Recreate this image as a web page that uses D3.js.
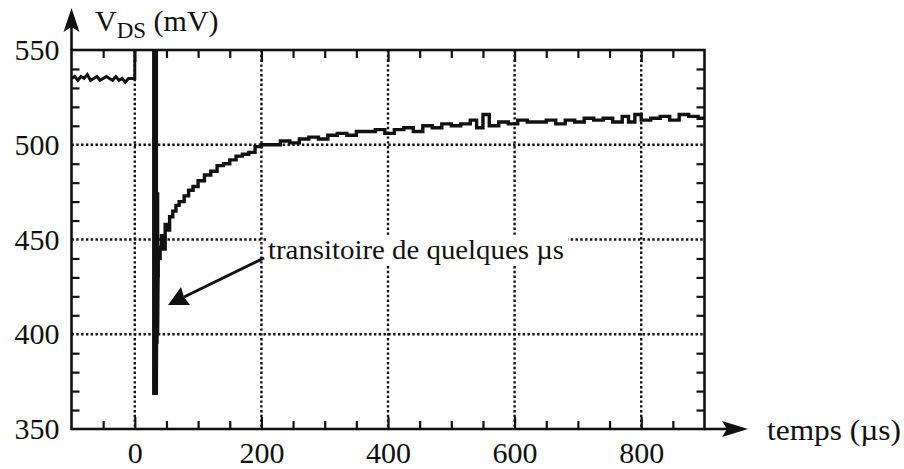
<!DOCTYPE html>
<html>
<head>
<meta charset="utf-8">
<script src="https://cdn.jsdelivr.net/npm/d3@7"></script>
<style>
  body { margin: 0; background: #fff; }
  svg text { font-family: "Liberation Serif", Tinos, "Times New Roman", "DejaVu Serif", serif; fill: #111; }
</style>
</head>
<body>
<script>
// trace before the pulse (µs, mV)
const preT = [-100, -95, -90, -85, -80, -75, -70, -65, -60, -55, -50, -45, -40, -35, -30, -25, -20, -15, -10, -5, 0, 0];
const preV = [535, 536, 534, 536, 535, 537, 534, 535, 536, 534, 535, 536, 535, 534, 536, 534, 535, 533, 535, 535, 535, 600];

// fast transient (off-scale then ringing down)
const transT = [32, 32, 32, 32, 33, 33, 34, 34, 35, 35];
const transV = [600, 368, 560, 372, 470, 395, 475, 400, 445, 430];

// slow recovery
const recT = [36, 40, 42, 45, 48, 52, 55, 60, 65, 70, 78, 85, 92, 100, 110, 120, 130, 140, 150, 160, 170, 180, 190, 200,
  215, 230, 245, 260, 275, 290, 305, 320, 335, 350, 365, 380, 395, 410, 425, 440, 455, 470, 485, 500, 515, 530, 540, 550,
  560, 575, 590, 605, 620, 635, 650, 665, 680, 695, 710, 725, 740, 755, 770, 780, 790, 800, 815, 830, 845, 860, 875, 890, 900];
const recV = [440, 446, 452, 445, 458, 455, 462, 465, 468, 470, 473, 476, 478, 481, 484, 486, 489, 490, 492, 494, 495, 496, 499, 500,
  500, 502, 501, 503, 504, 503, 505, 506, 505, 507, 507, 508, 506, 508, 509, 507, 510, 509, 511, 510, 511, 513, 509, 516,
  510, 512, 511, 513, 512, 512, 513, 511, 513, 512, 514, 513, 514, 512, 515, 512, 516, 513, 514, 515, 513, 516, 515, 514, 515];

const xMajor = [0, 200, 400, 600, 800];
const xMinor = [-50, 50, 100, 150, 250, 300, 350, 450, 500, 550, 650, 700, 750, 850];
const yLabels = [550, 500, 450, 400, 350];
const yGrid = [500, 450, 400];
const yMinor = d3.range(360, 550, 10).filter(v => v % 50 !== 0);

const width = 904, height = 469;
const x = d3.scaleLinear().domain([-100, 900]).range([71.5, 704.5]);
const y = d3.scaleLinear().domain([350, 550]).range([429, 50]);

const svg = d3.select("body").append("svg")
    .attr("width", width)
    .attr("height", height);

svg.append("defs").append("clipPath").attr("id", "plot")
  .append("rect")
    .attr("x", x(-100)).attr("y", y(550))
    .attr("width", x(900) - x(-100)).attr("height", y(350) - y(550));

// dotted grid
svg.append("g").selectAll("line")
  .data(xMajor)
  .enter().append("line")
    .attr("x1", d => x(d)).attr("x2", d => x(d))
    .attr("y1", y(550)).attr("y2", y(350))
    .attr("stroke", "#111").attr("stroke-width", 2.4)
    .attr("stroke-dasharray", "2.4,2.4");

svg.append("g").selectAll("line")
  .data(yGrid)
  .enter().append("line")
    .attr("x1", x(-100)).attr("x2", x(900))
    .attr("y1", d => y(d)).attr("y2", d => y(d))
    .attr("stroke", "#111").attr("stroke-width", 2.4)
    .attr("stroke-dasharray", "2.4,2.4");

// ticks on all four sides, pointing inward
function ticks(axis) {
  return g => { g.call(axis); g.select(".domain").remove();
    g.attr("font-family", null).attr("font-size", null);
    g.selectAll(".tick line").attr("stroke", "#111").attr("stroke-width", 2.2); };
}
svg.append("g").attr("transform", `translate(0,${y(350)})`)
  .call(ticks(d3.axisBottom(x).tickValues(xMinor).tickSize(-8).tickFormat("")));
svg.append("g").attr("transform", `translate(0,${y(350)})`)
  .call(ticks(d3.axisBottom(x).tickValues(xMajor).tickSize(-12).tickPadding(13)))
  .selectAll("text").attr("font-size", 30);
svg.append("g").attr("transform", `translate(0,${y(550)})`)
  .call(ticks(d3.axisTop(x).tickValues(xMinor).tickSize(-8).tickFormat("")));
svg.append("g").attr("transform", `translate(0,${y(550)})`)
  .call(ticks(d3.axisTop(x).tickValues(xMajor).tickSize(-12).tickFormat("")));
svg.append("g").attr("transform", `translate(${x(-100)},0)`)
  .call(ticks(d3.axisLeft(y).tickValues(yMinor).tickSize(-8).tickFormat("")));
svg.append("g").attr("transform", `translate(${x(-100)},0)`)
  .call(ticks(d3.axisLeft(y).tickValues(yLabels).tickSize(0).tickPadding(12)))
  .selectAll("text").attr("font-size", 30);
svg.append("g").attr("transform", `translate(${x(900)},0)`)
  .call(ticks(d3.axisRight(y).tickValues(yMinor).tickSize(-8).tickFormat("")));

// trace
const line = d3.line().x(d => x(d[0])).y(d => y(d[1]));
const plot = svg.append("g").attr("clip-path", "url(#plot)");

plot.append("path")
    .datum(d3.zip(preT, preV))
    .attr("fill", "none").attr("stroke", "#111").attr("stroke-width", 3)
    .attr("d", line);
plot.append("path")
    .datum(d3.zip(transT, transV))
    .attr("fill", "none").attr("stroke", "#111").attr("stroke-width", 6)
    .attr("d", line);
plot.append("path")
    .datum(d3.zip(recT, recV))
    .attr("fill", "none").attr("stroke", "#111").attr("stroke-width", 3.4)
    .attr("d", line.curve(d3.curveStepAfter));

// frame
svg.append("rect")
    .attr("x", x(-100)).attr("y", y(550))
    .attr("width", x(900) - x(-100)).attr("height", y(350) - y(550))
    .attr("fill", "none").attr("stroke", "#111").attr("stroke-width", 2.6);

// axis arrows
svg.append("line")
    .attr("x1", x(-100)).attr("x2", x(-100)).attr("y1", y(550)).attr("y2", 22)
    .attr("stroke", "#111").attr("stroke-width", 2.6);
svg.append("path")
    .attr("d", `M${x(-100)},8 L${x(-100) + 8},32 L${x(-100)},27 L${x(-100) - 8},32 Z`)
    .attr("fill", "#111");
svg.append("line")
    .attr("x1", x(900)).attr("x2", 735).attr("y1", y(350)).attr("y2", y(350))
    .attr("stroke", "#111").attr("stroke-width", 2.6);
svg.append("path")
    .attr("d", `M748,${y(350)} L722,${y(350) - 8} L727,${y(350)} L722,${y(350) + 8} Z`)
    .attr("fill", "#111");

// axis titles
const yTitle = svg.append("text").attr("x", 95).attr("y", 31).attr("font-size", 30);
yTitle.append("tspan").text("V");
yTitle.append("tspan").attr("font-size", 23).attr("dy", 7).text("DS");
yTitle.append("tspan").attr("dy", -7).text(" (mV)");

svg.append("text")
    .attr("x", 767).attr("y", 440)
    .attr("font-size", 30)
    .attr("textLength", 134).attr("lengthAdjust", "spacingAndGlyphs")
    .text("temps (µs)");

// annotation
const note = svg.append("g");
note.append("rect")
    .attr("x", 266).attr("y", 236).attr("width", 302).attr("height", 30)
    .attr("fill", "#fff");
note.append("text")
    .attr("x", 268).attr("y", 259)
    .attr("font-size", 27)
    .attr("textLength", 296).attr("lengthAdjust", "spacingAndGlyphs")
    .text("transitoire de quelques µs");
note.append("line")
    .attr("x1", 264).attr("y1", 258).attr("x2", 184).attr("y2", 297)
    .attr("stroke", "#111").attr("stroke-width", 3);
note.append("path")
    .attr("d", "M168,305 L181,287 L184,297 L190,305 Z")
    .attr("fill", "#111");
</script>
</body>
</html>
